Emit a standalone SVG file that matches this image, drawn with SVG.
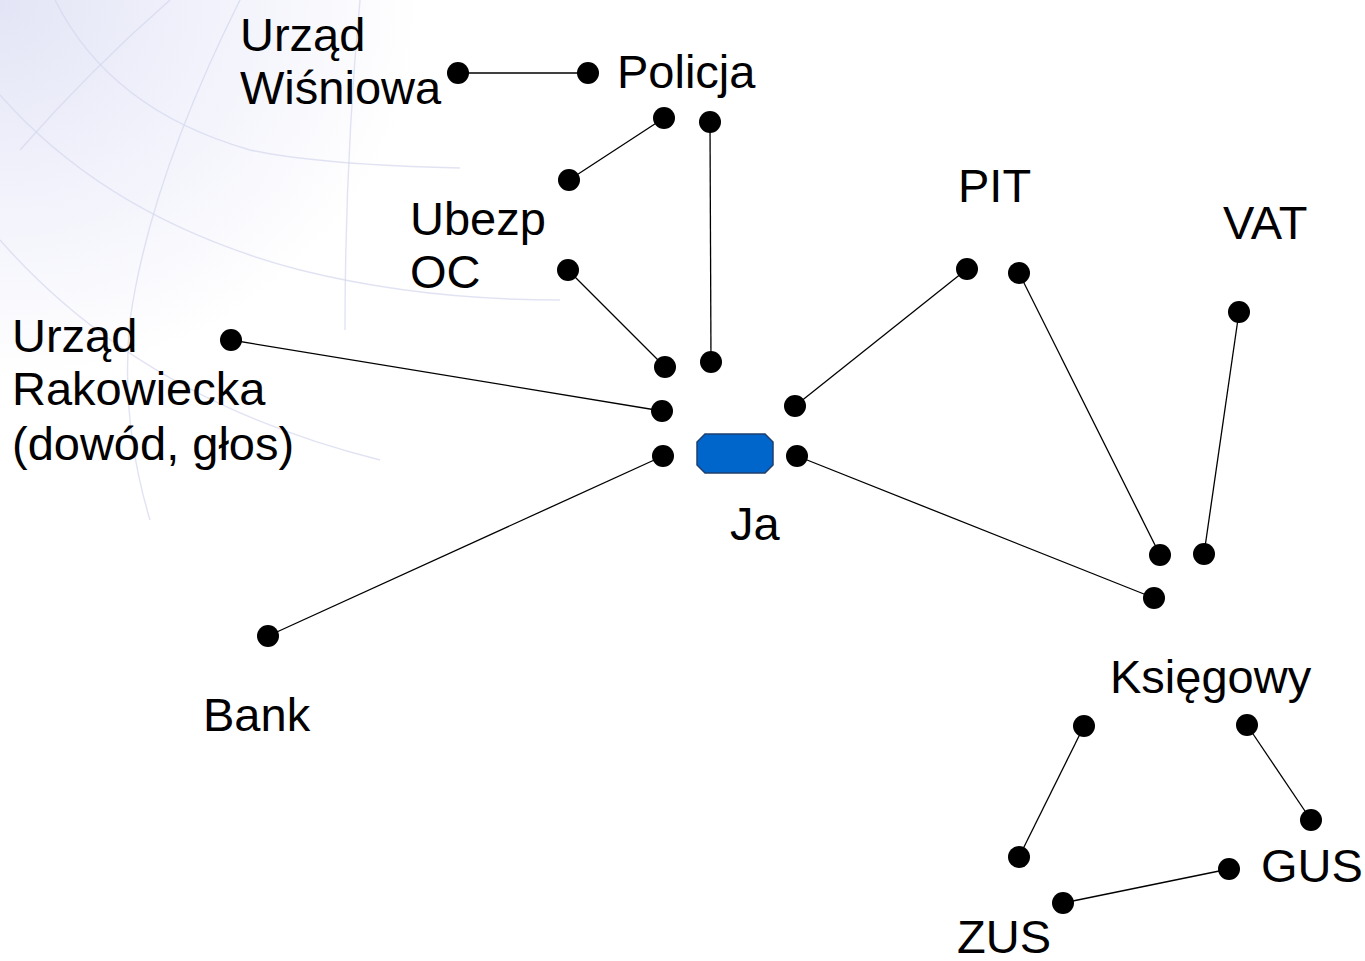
<svg xmlns="http://www.w3.org/2000/svg" width="1365" height="961" viewBox="0 0 1365 961">
<defs>
<radialGradient id="bgGlow" cx="0" cy="0" r="1" gradientUnits="userSpaceOnUse" gradientTransform="translate(0,0) scale(420,380)">
<stop offset="0" stop-color="#e3e5f6"/>
<stop offset="0.5" stop-color="#f1f2fb"/>
<stop offset="1" stop-color="#ffffff"/>
</radialGradient>
</defs>
<style>
text{font-family:"Liberation Sans",Arial,sans-serif;font-size:47px;fill:#000}
.dot{fill:#000}
.edge{stroke:#000;stroke-width:1.3;fill:none}
.globe{stroke:#d4d7ee;stroke-width:1.4;fill:none;opacity:0.7}
</style>
<rect width="1365" height="961" fill="#ffffff"/>
<g id="background">
<rect width="700" height="520" fill="url(#bgGlow)"/>
<path class="globe" d="M55,0 Q110,110 250,150 Q320,165 460,168"/>
<path class="globe" d="M0,95 Q110,220 300,270 Q420,300 560,300"/>
<path class="globe" d="M0,240 Q140,400 380,460"/>
<path class="globe" d="M170,0 Q90,70 20,150"/>
<path class="globe" d="M240,0 Q150,180 130,320 Q120,420 150,520"/>
<path class="globe" d="M360,0 Q345,160 345,330"/>
</g>
<g id="connectors">
<line class="edge" x1="458" y1="73" x2="588" y2="73"/>
<line class="edge" x1="664" y1="118" x2="569" y2="180"/>
<line class="edge" x1="710" y1="122" x2="711" y2="362"/>
<line class="edge" x1="568" y1="270" x2="665" y2="367"/>
<line class="edge" x1="231" y1="340" x2="662" y2="411"/>
<line class="edge" x1="663" y1="456" x2="268" y2="636"/>
<line class="edge" x1="795" y1="406" x2="967" y2="269"/>
<line class="edge" x1="1019" y1="273" x2="1160" y2="555"/>
<line class="edge" x1="1239" y1="312" x2="1204" y2="554"/>
<line class="edge" x1="797" y1="456" x2="1154" y2="598"/>
<line class="edge" x1="1084" y1="726" x2="1019" y2="857"/>
<line class="edge" x1="1247" y1="725" x2="1311" y2="820"/>
<line class="edge" x1="1229" y1="869" x2="1063" y2="903"/>
</g>
<g id="node-ja">
<polygon points="705,434 765,434 773,442 773,465 765,473 705,473 697,465 697,442" fill="#0066cc" stroke="#1f3f6f" stroke-width="1.5"/>
<circle class="dot" cx="665" cy="367" r="11"/>
<circle class="dot" cx="711" cy="362" r="11"/>
<circle class="dot" cx="662" cy="411" r="11"/>
<circle class="dot" cx="663" cy="456" r="11"/>
<circle class="dot" cx="795" cy="406" r="11"/>
<circle class="dot" cx="797" cy="456" r="11"/>
<text x="730" y="540">Ja</text>
</g>
<g id="node-wisniowa">
<circle class="dot" cx="458" cy="73" r="11"/>
<text x="240" y="51">Urząd</text>
<text x="240" y="104">Wiśniowa</text>
</g>
<g id="node-policja">
<circle class="dot" cx="588" cy="73" r="11"/>
<circle class="dot" cx="664" cy="118" r="11"/>
<circle class="dot" cx="710" cy="122" r="11"/>
<text x="617" y="88">Policja</text>
</g>
<g id="node-ubezp">
<circle class="dot" cx="569" cy="180" r="11"/>
<circle class="dot" cx="568" cy="270" r="11"/>
<text x="410" y="235">Ubezp</text>
<text x="410" y="288">OC</text>
</g>
<g id="node-rakowiecka">
<circle class="dot" cx="231" cy="340" r="11"/>
<text x="12" y="352">Urząd</text>
<text x="12" y="405">Rakowiecka</text>
<text x="12" y="460">(dowód, głos)</text>
</g>
<g id="node-bank">
<circle class="dot" cx="268" cy="636" r="11"/>
<text x="203" y="731">Bank</text>
</g>
<g id="node-pit">
<circle class="dot" cx="967" cy="269" r="11"/>
<circle class="dot" cx="1019" cy="273" r="11"/>
<text x="958" y="202">PIT</text>
</g>
<g id="node-vat">
<circle class="dot" cx="1239" cy="312" r="11"/>
<text x="1223" y="239">VAT</text>
</g>
<g id="node-ksiegowy">
<circle class="dot" cx="1160" cy="555" r="11"/>
<circle class="dot" cx="1204" cy="554" r="11"/>
<circle class="dot" cx="1154" cy="598" r="11"/>
<circle class="dot" cx="1084" cy="726" r="11"/>
<circle class="dot" cx="1247" cy="725" r="11"/>
<text x="1110" y="693">Księgowy</text>
</g>
<g id="node-gus">
<circle class="dot" cx="1311" cy="820" r="11"/>
<circle class="dot" cx="1229" cy="869" r="11"/>
<text x="1261" y="882">GUS</text>
</g>
<g id="node-zus">
<circle class="dot" cx="1019" cy="857" r="11"/>
<circle class="dot" cx="1063" cy="903" r="11"/>
<text x="957" y="953">ZUS</text>
</g>
</svg>
